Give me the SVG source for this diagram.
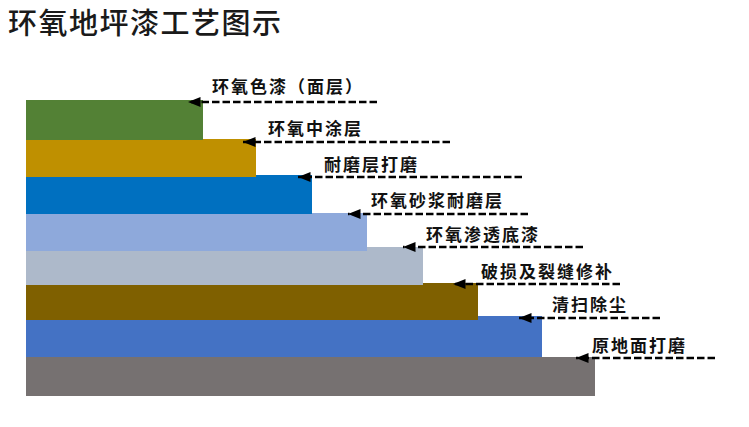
<svg xmlns="http://www.w3.org/2000/svg" width="749" height="427" viewBox="0 0 749 427">
<style>
.t{font-family:"Noto Sans CJK SC","Noto Sans",sans-serif;font-size:29px;font-weight:500;fill:#1a1a1a;letter-spacing:1.5px}
.l{font-family:"Noto Sans CJK SC","Noto Sans",sans-serif;font-size:17px;font-weight:bold;fill:#111;letter-spacing:2px}
.c{stroke:#000;stroke-width:2.5;stroke-dasharray:7.5 3;fill:none}
</style>
<defs>
<marker id="ah" viewBox="0 0 10 8" refX="10" refY="4" markerWidth="5" markerHeight="4" orient="auto" markerUnits="strokeWidth">
<path d="M0,0 L10,4 L0,8 Z" fill="#000"/>
</marker>
</defs>
<rect width="749" height="427" fill="#fff"/>
<text class="t" x="8" y="34">环氧地坪漆工艺图示</text>
<g id="layer8"><rect x="26" y="357" width="569" height="39" fill="#767171"/></g>
<g id="layer7"><rect x="26" y="316" width="516" height="41" fill="#4472C4"/></g>
<g id="layer6"><rect x="26" y="283" width="452" height="37" fill="#7F6000"/></g>
<g id="layer5"><rect x="26" y="247" width="397" height="38" fill="#ADB9CA"/></g>
<g id="layer4"><rect x="26" y="213" width="341" height="38" fill="#8EA9DB"/></g>
<g id="layer3"><rect x="26" y="175" width="286" height="39" fill="#0070C0"/></g>
<g id="layer2"><rect x="26" y="139" width="230" height="38" fill="#BF9000"/></g>
<g id="layer1"><rect x="26" y="100" width="177" height="40" fill="#538135"/></g>
<g id="connectors">
<path class="c" d="M377,102 H188" marker-end="url(#ah)"/>
<path class="c" d="M450,142 H243" marker-end="url(#ah)"/>
<path class="c" d="M522,177 H298" marker-end="url(#ah)"/>
<path class="c" d="M528,214 H348" marker-end="url(#ah)"/>
<path class="c" d="M583,247 H403" marker-end="url(#ah)"/>
<path class="c" d="M620,284 H453" marker-end="url(#ah)"/>
<path class="c" d="M660,318 H519" marker-end="url(#ah)"/>
<path class="c" d="M715,358 H576" marker-end="url(#ah)"/>
</g>
<g id="labels">
<text class="l" x="212" y="93">环氧色漆（面层）</text>
<text class="l" x="268" y="135">环氧中涂层</text>
<text class="l" x="324" y="171">耐磨层打磨</text>
<text class="l" x="371" y="207">环氧砂浆耐磨层</text>
<text class="l" x="426" y="241">环氧渗透底漆</text>
<text class="l" x="481" y="278">破损及裂缝修补</text>
<text class="l" x="552" y="311">清扫除尘</text>
<text class="l" x="592" y="352">原地面打磨</text>
</g>
</svg>
